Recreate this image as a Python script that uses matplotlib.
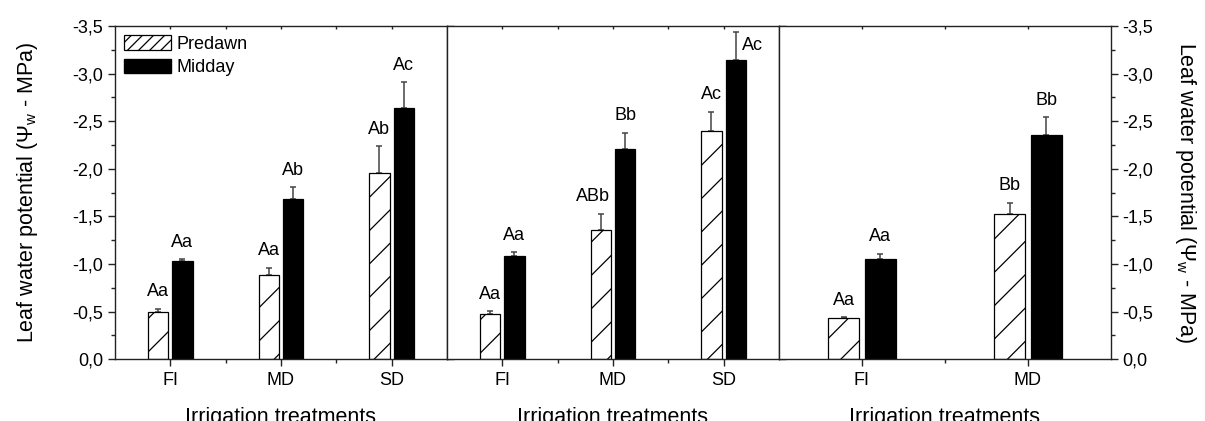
import matplotlib
matplotlib.use('Agg')
import matplotlib.pyplot as plt
from matplotlib.ticker import MultipleLocator, FuncFormatter
from matplotlib.patches import Patch
import numpy as np

plt.rcParams['font.family'] = ['Liberation Sans', 'DejaVu Sans']
plt.rcParams['mathtext.fontset'] = 'custom'
plt.rcParams['mathtext.rm'] = 'Liberation Sans'
plt.rcParams['hatch.linewidth'] = 0.9

# leaf water potential (MPa), one list per panel
cats_1 = ['FI', 'MD', 'SD']
predawn_1 = [-0.49, -0.88, -1.96]
predawn_err_1 = [0.04, 0.08, 0.28]
midday_1 = [-1.03, -1.68, -2.64]
midday_err_1 = [0.02, 0.13, 0.27]
predawn_lab_1 = ['Aa', 'Aa', 'Ab']
midday_lab_1 = ['Aa', 'Ab', 'Ac']

cats_2 = ['FI', 'MD', 'SD']
predawn_2 = [-0.47, -1.36, -2.40]
predawn_err_2 = [0.035, 0.17, 0.20]
midday_2 = [-1.08, -2.21, -3.14]
midday_err_2 = [0.045, 0.17, 0.30]
predawn_lab_2 = ['Aa', 'ABb', 'Ac']
midday_lab_2 = ['Aa', 'Bb', 'Ac']

cats_3 = ['FI', 'MD']
predawn_3 = [-0.43, -1.53]
predawn_err_3 = [0.01, 0.115]
midday_3 = [-1.05, -2.36]
midday_err_3 = [0.06, 0.18]
predawn_lab_3 = ['Aa', 'Bb']
midday_lab_3 = ['Aa', 'Bb']

panels = [
    (cats_1, predawn_1, predawn_err_1, midday_1, midday_err_1, predawn_lab_1, midday_lab_1),
    (cats_2, predawn_2, predawn_err_2, midday_2, midday_err_2, predawn_lab_2, midday_lab_2),
    (cats_3, predawn_3, predawn_err_3, midday_3, midday_err_3, predawn_lab_3, midday_lab_3),
]

ylabel = r'Leaf water potential ($\mathregular{\Psi_w}$ - MPa)'
comma = FuncFormatter(lambda v, p: ('%.1f' % v).replace('.', ','))

fig = plt.figure(figsize=(12.05, 4.21), dpi=100)
w = 0.2755
lefts = [0.0954, 0.0954 + w, 0.0954 + 2 * w]
bw = 0.185
off = 0.11
ecol = '#444444'

for k, (cats, pd_, pe, md, me, pl, ml) in enumerate(panels):
    ax = fig.add_axes([lefts[k], 0.147, w, 0.791])
    x = np.arange(1, len(cats) + 1)
    ax.bar(x - off, pd_, bw, color='white', edgecolor='black', hatch='/', linewidth=0.9, zorder=2)
    ax.bar(x + off, md, bw, color='black', edgecolor='black', linewidth=0.9, zorder=2)
    ax.errorbar(x - off, pd_, yerr=[pe, np.zeros(len(pe))], fmt='none', ecolor=ecol,
                elinewidth=1.1, capsize=2.5, capthick=1.1, zorder=1)
    ax.errorbar(x + off, md, yerr=[me, np.zeros(len(me))], fmt='none', ecolor=ecol,
                elinewidth=1.1, capsize=2.5, capthick=1.1, zorder=1)

    for i in range(len(cats)):
        dx = -0.07 if pl[i] == 'ABb' else 0
        ax.text(x[i] - off + dx, pd_[i] - pe[i] - 0.13, pl[i], ha='center', va='baseline', fontsize=13)
        if k == 1 and i == 2:
            # top label would hit the frame, put it beside the error bar
            ax.text(x[i] + off + 0.155, -3.25, ml[i], ha='center', va='baseline', fontsize=13)
        else:
            ax.text(x[i] + off, md[i] - me[i] - 0.13, ml[i], ha='center', va='baseline', fontsize=13)

    ax.set_xlim(0.5, len(cats) + 0.5)
    ax.set_ylim(0, -3.5)
    ax.set_xticks(x)
    ax.set_xticklabels(cats, fontsize=13)
    ax.set_xticks(x[:-1] + 0.5, minor=True)
    ax.yaxis.set_major_locator(MultipleLocator(0.5))
    ax.yaxis.set_minor_locator(MultipleLocator(0.25))
    ax.yaxis.set_major_formatter(comma)
    ax.tick_params(axis='both', which='major', direction='out', length=5, width=1, labelsize=13, color='#222222')
    ax.tick_params(axis='both', which='minor', direction='out', length=3, width=1, color='#222222')
    ax.tick_params(axis='x', which='both', pad=4)
    ax.tick_params(axis='y', which='both', left=(k == 0), right=True,
                   labelleft=(k == 0), labelright=(k == 2))
    # small inward ticks along the top frame
    top = ax.secondary_xaxis('top')
    top.set_xticks(x)
    top.set_xticks(x[:-1] + 0.5, minor=True)
    top.tick_params(axis='x', which='both', direction='in', length=2.5, width=1,
                    labeltop=False, color='#222222')
    top.spines['top'].set_visible(False)
    for s in ax.spines.values():
        s.set_linewidth(1.0)
        s.set_color('#222222')

    ax.set_xlabel('Irrigation treatments', fontsize=15.5, labelpad=13)
    if k == 0:
        ax.set_ylabel(ylabel, fontsize=15.5, labelpad=23)
        handles = [Patch(facecolor='white', edgecolor='black', hatch='///', linewidth=0.9),
                   Patch(facecolor='black', edgecolor='black')]
        ax.legend(handles, ['Predawn', 'Midday'], loc='upper left', frameon=False, fontsize=13,
                  handlelength=2.6, handleheight=0.85, handletextpad=0.3, labelspacing=0.35,
                  borderaxespad=0.2, borderpad=0.3)
    if k == 2:
        ax.yaxis.set_label_position('right')
        ax.set_ylabel(ylabel, fontsize=15.5, rotation=-90, va='bottom', labelpad=14)

fig.savefig('out.png', dpi=100)
